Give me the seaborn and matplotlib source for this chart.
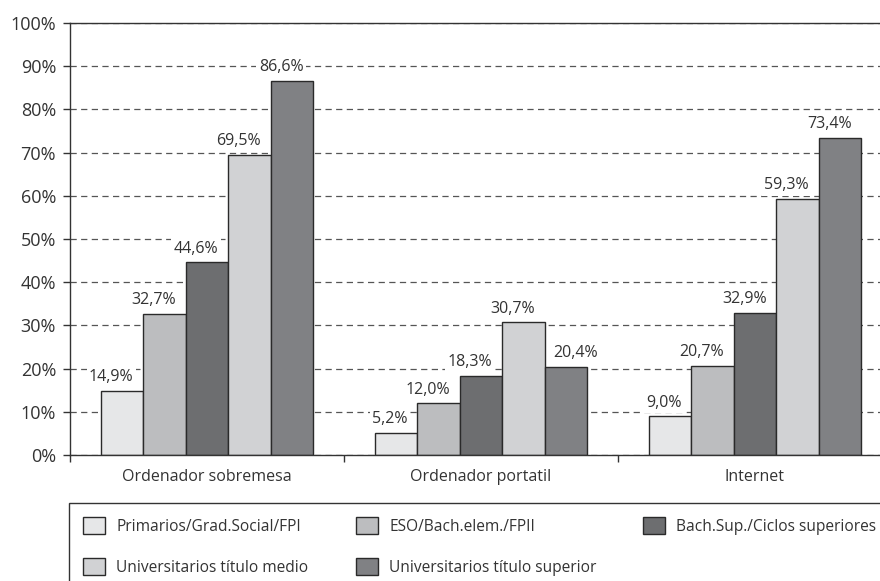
import matplotlib
matplotlib.use('Agg')
import matplotlib.pyplot as plt
import seaborn as sns
import pandas as pd
from matplotlib.patches import Patch, Rectangle
from matplotlib.ticker import FixedLocator, FuncFormatter

# Data
categories = ['Ordenador sobremesa', 'Ordenador portatil', 'Internet']
levels = ['Primarios/Grad.Social/FPI', 'ESO/Bach.elem./FPII',
          'Bach.Sup./Ciclos superiores', 'Universitarios título medio',
          'Universitarios título superior']
primarios = [14.9, 5.2, 9.0]
eso = [32.7, 12.0, 20.7]
bach_sup = [44.6, 18.3, 32.9]
univ_medio = [69.5, 30.7, 59.3]
univ_superior = [86.6, 20.4, 73.4]
colors = ['#e6e7e8', '#bcbdbf', '#6d6e70', '#d1d2d4', '#808184']

# Style
sns.set_theme(style="white")
plt.rcParams['font.family'] = ['Open Sans', 'DejaVu Sans']
text_color = '#333333'

rows = []
for lvl, vals in zip(levels, [primarios, eso, bach_sup, univ_medio, univ_superior]):
    for cat, v in zip(categories, vals):
        rows.append({'categoria': cat, 'nivel': lvl, 'valor': v})
df = pd.DataFrame(rows)

fig = plt.figure(figsize=(8.8, 5.81), dpi=100)
ax = fig.add_axes([70 / 880, 126 / 581, 822 / 880, 432 / 581])

sns.barplot(data=df, x='categoria', y='valor', hue='nivel', order=categories,
            hue_order=levels, palette=colors, width=0.775, edgecolor='#2a2a2a',
            linewidth=1, saturation=1, legend=False, ax=ax)

ax.set_xlim(-0.5, 2.5)
ax.set_ylim(0, 100)
ax.set_xlabel('')
ax.set_ylabel('')

# y axis
ax.set_yticks(range(0, 101, 10))
ax.yaxis.set_major_formatter(FuncFormatter(lambda v, p: f'{int(v)}%'))
ax.tick_params(axis='y', direction='out', length=5, width=1, color='#333333',
               pad=5, labelsize=13, labelcolor=text_color, left=True)
ax.yaxis.grid(True, linestyle=(0, (5, 3.5)), color='#555555', linewidth=0.9)
ax.set_axisbelow(True)

# x axis: ticks between groups, labels at centres
ax.xaxis.set_major_locator(FixedLocator([-0.5, 0.5, 1.5, 2.5]))
ax.xaxis.set_major_formatter(FuncFormatter(lambda v, p: ''))
ax.xaxis.set_minor_locator(FixedLocator([0, 1, 2]))
ax.xaxis.set_minor_formatter(FuncFormatter(lambda v, p: categories[int(round(v))]))
ax.tick_params(axis='x', which='major', direction='out', length=5, width=1,
               color='#333333', bottom=True)
ax.tick_params(axis='x', which='minor', length=0, pad=10, labelsize=11.5,
               labelcolor=text_color, bottom=True)

for side in ['left', 'bottom', 'top', 'right']:
    ax.spines[side].set_visible(True)
    ax.spines[side].set_color('#333333')
    ax.spines[side].set_linewidth(1)

# value labels: right-aligned a little inside the bar's right edge,
# pushed right when the bar to the left is taller
conts = list(ax.containers)
for k, cont in enumerate(conts):
    for j, bar in enumerate(cont):
        h = bar.get_height()
        taller_left = k > 0 and conts[k - 1][j].get_height() > h
        if taller_left:
            xy, off, ha = (bar.get_x(), h), (6.5, 4), 'left'
        else:
            xy, off, ha = (bar.get_x() + bar.get_width(), h), (-7, 4), 'right'
        ax.annotate(f'{h:.1f}%'.replace('.', ','), xy,
                    xytext=off, textcoords='offset points',
                    ha=ha, va='bottom', fontsize=11.5, color=text_color,
                    bbox=dict(boxstyle='square,pad=0.15', fc='white', ec='none'))

# legend: frame + three columns
fig.patches.append(Rectangle((69 / 880, -0.05), 0.95, (581 - 503) / 581 + 0.05,
                             transform=fig.transFigure, fill=False,
                             edgecolor='#333333', linewidth=1))
handles = [Patch(facecolor=c, edgecolor='#2a2a2a', linewidth=1) for c in colors]
columns = [([0, 3], 83), ([1, 4], 356), ([2], 643)]
for idx, xpix in columns:
    fig.legend([handles[i] for i in idx], [levels[i] for i in idx],
               loc='upper left', bbox_to_anchor=(xpix / 880, 1 - 517 / 581),
               frameon=False, fontsize=11.2, handlelength=1.4, handleheight=1.3,
               handletextpad=0.75, labelspacing=1.5, borderaxespad=0,
               borderpad=0, labelcolor=text_color)

fig.savefig('out.png', dpi=100)
